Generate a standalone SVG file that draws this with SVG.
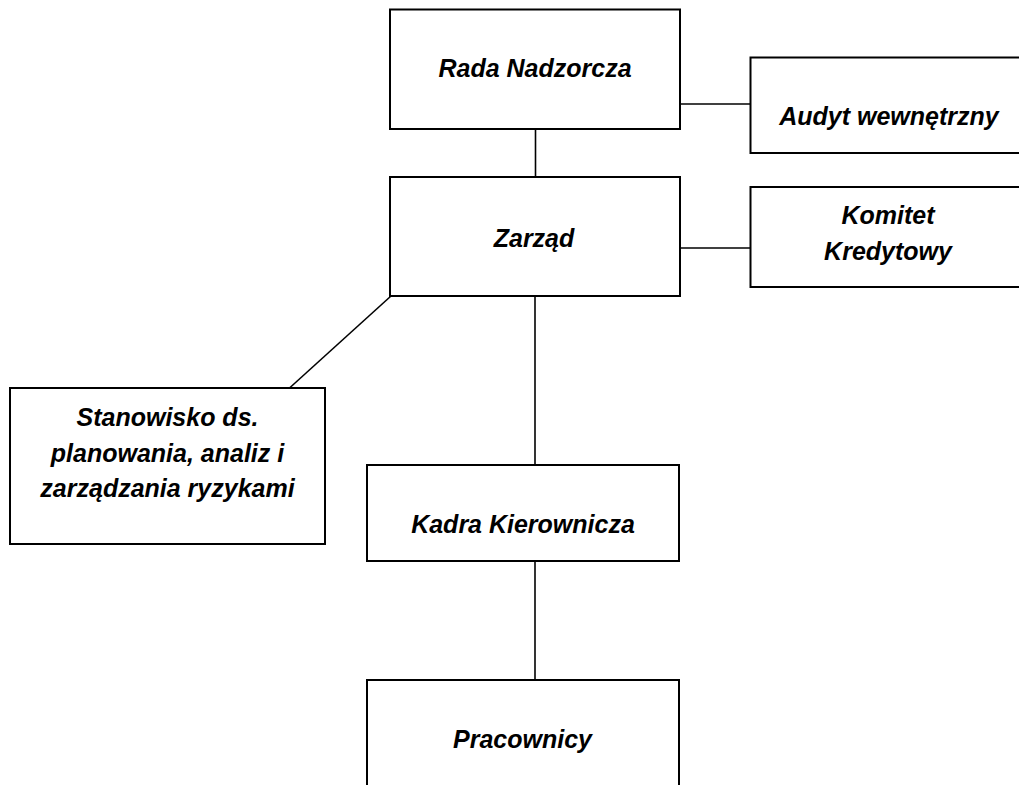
<svg xmlns="http://www.w3.org/2000/svg" width="1019" height="785" viewBox="0 0 1019 785">
<style>
.box{fill:#ffffff;stroke:#000000;stroke-width:2}
.con{fill:none;stroke:#000000;stroke-width:1.6}
.lbl{font-family:"Liberation Sans",Arial,sans-serif;font-weight:bold;font-style:italic;font-size:25px;fill:#000000;text-anchor:middle}
</style>
<rect width="1019" height="785" fill="#ffffff"/>
<g id="connectors">
<line class="con" x1="680" y1="104" x2="750" y2="104"/>
<line class="con" x1="535.5" y1="129" x2="535.5" y2="177"/>
<line class="con" x1="680" y1="248" x2="750" y2="248"/>
<line class="con" x1="535" y1="296" x2="535" y2="465"/>
<line class="con" x1="535" y1="561" x2="535" y2="680"/>
<line class="con" x1="391" y1="296" x2="284" y2="393"/>
</g>
<g id="rada">
<rect class="box" x="390" y="9.5" width="290" height="119.5"/>
<text class="lbl" x="535" y="77">Rada Nadzorcza</text>
</g>
<g id="audyt">
<rect class="box" x="750.5" y="57.5" width="290" height="95.5"/>
<text class="lbl" x="889" y="125">Audyt wewnętrzny</text>
</g>
<g id="zarzad">
<rect class="box" x="390" y="177" width="290" height="119"/>
<text class="lbl" x="534" y="247">Zarząd</text>
</g>
<g id="komitet">
<rect class="box" x="750.5" y="187" width="290" height="100"/>
<text class="lbl" x="888" y="224">Komitet</text>
<text class="lbl" x="888" y="260">Kredytowy</text>
</g>
<g id="stanowisko">
<rect class="box" x="10" y="388" width="315" height="156"/>
<text class="lbl" x="167.5" y="426">Stanowisko ds.</text>
<text class="lbl" x="167.5" y="462">planowania, analiz i</text>
<text class="lbl" x="167.5" y="497">zarządzania ryzykami</text>
</g>
<g id="kadra">
<rect class="box" x="367" y="465" width="312" height="96"/>
<text class="lbl" x="523" y="533">Kadra Kierownicza</text>
</g>
<g id="pracownicy">
<rect class="box" x="367" y="680" width="312" height="130"/>
<text class="lbl" x="522.5" y="748">Pracownicy</text>
</g>
</svg>
